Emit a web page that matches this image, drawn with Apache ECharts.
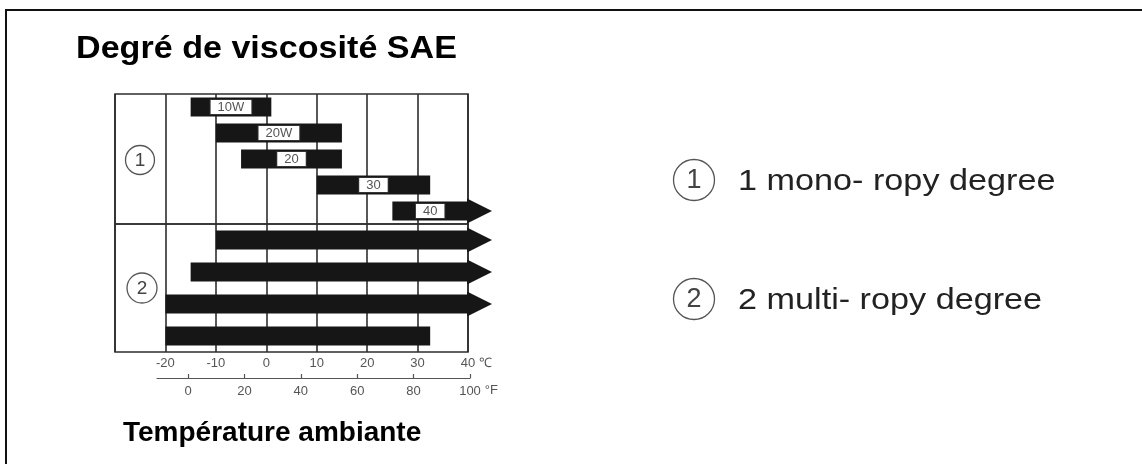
<!DOCTYPE html>
<html>
<head>
<meta charset="utf-8">
<title>Degré de viscosité SAE</title>
<script src="https://cdn.jsdelivr.net/npm/echarts@6/dist/echarts.min.js"></script>
<style>
  html, body { margin: 0; padding: 0; background: #ffffff; }
  #chart { width: 1142px; height: 464px; }
</style>
</head>
<body>
<div id="chart"></div>
<script>
  // grades mono (section 1), top to bottom
  const monoGrades = ['10W', '20W', '20', '30', '40']
  const monoFrom = [-15, -10, -5, 10, 25]
  const monoTo = [1, 15, 15, 32.5, 40]
  const monoArrow = [0, 0, 0, 0, 1]

  // grades multi (section 2), top to bottom
  const multiRows = ['a', 'b', 'c', 'd']
  const multiFrom = [-10, -15, -20, -20]
  const multiTo = [40, 40, 40, 32.5]
  const multiArrow = [1, 1, 1, 0]

  const celsiusTicks = [-20, -10, 0, 10, 20, 30, 40]
  const fahrenheitTicks = [0, 20, 40, 60, 80, 100]

  const FONT = '"Liberation Sans", Arial, sans-serif'
  const LINE = '#2e2e2e'

  function renderBar (labels) {
    return function (params, api) {
      let cat = api.value(0)
      let p0 = api.coord([api.value(1), cat])
      let p1 = api.coord([api.value(2), cat])
      let h = 19
      let y = p0[1]
      let children = [{
        type: 'rect',
        shape: { x: p0[0], y: y - h / 2, width: p1[0] - p0[0], height: h },
        style: { fill: '#161616' }
      }]
      if (api.value(3)) {
        children.push({
          type: 'polygon',
          shape: { points: [[p1[0] - 1, y - h / 2 - 3], [p1[0] + 24, y], [p1[0] - 1, y + h / 2 + 3]] },
          style: { fill: '#161616' }
        })
      }
      if (labels) {
        children.push({
          type: 'text',
          x: (p0[0] + p1[0]) / 2,
          y: y,
          style: {
            text: labels[params.dataIndex],
            font: '13px ' + FONT,
            fill: '#555',
            align: 'center',
            verticalAlign: 'middle',
            backgroundColor: '#ffffff',
            borderColor: '#333',
            borderWidth: 1,
            padding: [1, 7, 0, 7]
          }
        })
      }
      return { type: 'group', children: children }
    }
  }

  function circled (cx, cy, r, digit, size) {
    return {
      type: 'group',
      children: [
        { type: 'circle', shape: { cx: cx, cy: cy, r: r }, style: { fill: '#fff', stroke: '#555', lineWidth: 1.3 } },
        { type: 'text', x: cx, y: cy + 1, style: { text: digit, font: size + 'px ' + FONT, fill: '#444', align: 'center', verticalAlign: 'middle' } }
      ]
    }
  }

  const celsiusAxis = (grid, showLabels) => ({
    type: 'value',
    gridIndex: grid,
    min: -30,
    max: 40,
    interval: 10,
    axisLine: { show: false },
    axisTick: { show: false },
    splitLine: { show: true, lineStyle: { color: LINE, width: 1.6 } },
    axisLabel: {
      show: showLabels,
      margin: 5,
      fontSize: 13,
      color: '#555',
      fontFamily: FONT,
      formatter: v => celsiusTicks.indexOf(v) >= 0 ? String(v) : ''
    },
    name: showLabels ? '℃' : '',
    nameLocation: 'end',
    nameGap: 4,
    nameTextStyle: { fontSize: 13, color: '#555', fontFamily: FONT, verticalAlign: 'top', padding: [5, 0, 0, 0] }
  })

  const chart = echarts.init(document.getElementById('chart'))
  chart.setOption({
    animation: false,
    backgroundColor: '#ffffff',
    grid: [
      { left: 115, width: 353, top: 94, height: 130, show: true, borderColor: LINE, borderWidth: 1.6 },
      { left: 115, width: 353, top: 224, height: 128, show: true, borderColor: LINE, borderWidth: 1.6 },
      { left: 157, width: 313, top: 377, height: 1 }
    ],
    xAxis: [
      celsiusAxis(0, false),
      celsiusAxis(1, true),
      {
        type: 'value',
        gridIndex: 2,
        min: -11,
        max: 100,
        axisLine: { show: true, lineStyle: { color: '#555', width: 1.2 } },
        axisTick: { show: true, inside: true, length: 4, customValues: fahrenheitTicks, lineStyle: { color: '#555', width: 1.2 } },
        splitLine: { show: false },
        axisLabel: { customValues: fahrenheitTicks, margin: 7, fontSize: 13, color: '#555', fontFamily: FONT },
        name: '°F',
        nameLocation: 'end',
        nameGap: 2,
        nameTextStyle: { fontSize: 13, color: '#555', fontFamily: FONT, verticalAlign: 'top', padding: [6, 0, 0, 0] }
      }
    ],
    yAxis: [
      { type: 'category', gridIndex: 0, data: monoGrades, inverse: true, show: false },
      { type: 'category', gridIndex: 1, data: multiRows, inverse: true, show: false },
      { type: 'value', gridIndex: 2, show: false }
    ],
    series: [
      {
        type: 'custom',
        xAxisIndex: 0,
        yAxisIndex: 0,
        renderItem: renderBar(monoGrades),
        encode: { x: [1, 2], y: 0 },
        data: monoGrades.map((g, i) => [i, monoFrom[i], monoTo[i], monoArrow[i]])
      },
      {
        type: 'custom',
        xAxisIndex: 1,
        yAxisIndex: 1,
        renderItem: renderBar(null),
        encode: { x: [1, 2], y: 0 },
        data: multiRows.map((g, i) => [i, multiFrom[i], multiTo[i], multiArrow[i]])
      }
    ],
    graphic: [
      { type: 'rect', shape: { x: 6, y: 10, width: 1200, height: 600 }, style: { fill: 'none', stroke: '#111', lineWidth: 2 } },
      {
        type: 'text', x: 76, y: 49, scaleX: 1.1,
        style: { text: 'Degré de viscosité SAE', font: 'bold 31px ' + FONT, fill: '#000', verticalAlign: 'middle' }
      },
      {
        type: 'text', x: 123, y: 433,
        style: { text: 'Température ambiante', font: 'bold 28px ' + FONT, fill: '#000', verticalAlign: 'middle' }
      },
      circled(140, 160, 14.5, '1', 19),
      circled(142, 288, 15, '2', 19),
      circled(694, 180, 20.5, '1', 27),
      circled(694, 299, 20.5, '2', 27),
      {
        type: 'text', x: 738, y: 182, scaleX: 1.14,
        style: { text: '1 mono- ropy degree', font: '30px ' + FONT, fill: '#222', verticalAlign: 'middle' }
      },
      {
        type: 'text', x: 738, y: 301, scaleX: 1.14,
        style: { text: '2 multi- ropy degree', font: '30px ' + FONT, fill: '#222', verticalAlign: 'middle' }
      }
    ]
  })
</script>
</body>
</html>
